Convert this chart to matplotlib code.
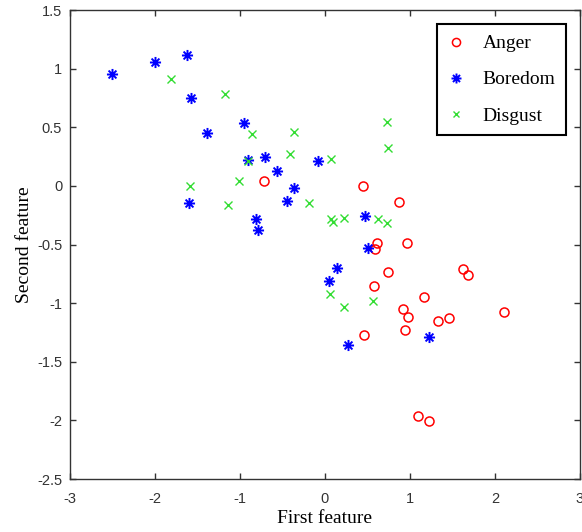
import matplotlib
matplotlib.use("Agg")
from matplotlib import pyplot as plt
from matplotlib.path import Path
from matplotlib.ticker import FuncFormatter
import numpy as np

plt.rcParams['axes.unicode_minus'] = False

# Данные
anger_x = [-0.72, 0.447, 0.87, 0.615, 0.97, 0.585, 0.74, 0.576, 1.62, 1.68,
           1.16, 0.92, 0.98, 1.33, 1.46, 2.11, 0.94, 0.455, 1.10, 1.22]
anger_y = [0.042, 0.0, -0.14, -0.49, -0.49, -0.54, -0.735, -0.853, -0.706, -0.76,
           -0.946, -1.048, -1.116, -1.15, -1.127, -1.076, -1.226, -1.268, -1.963, -2.006]

boredom_x = [-2.51, -2.00, -1.62, -1.57, -1.39, -0.957, -0.91, -0.71, -0.56, -0.365,
             -0.447, -1.60, -0.815, -0.79, -0.08, 0.474, 0.51, 0.137, 0.05, 0.267, 1.22]
boredom_y = [0.955, 1.06, 1.12, 0.746, 0.45, 0.536, 0.22, 0.246, 0.13, -0.017,
             -0.127, -0.147, -0.28, -0.38, 0.21, -0.254, -0.53, -0.70, -0.81, -1.356, -1.285]

disgust_x = [-1.815, -1.17, -0.86, -0.91, -0.365, -0.41, -1.59, -1.01, -1.14, -0.19,
             0.725, 0.745, 0.07, 0.07, 0.10, 0.227, 0.62, 0.733, 0.06, 0.22, 0.57]
disgust_y = [0.913, 0.78, 0.443, 0.21, 0.457, 0.268, -0.003, 0.04, -0.167, -0.147,
             0.542, 0.32, 0.229, -0.285, -0.31, -0.27, -0.285, -0.32, -0.926, -1.03, -0.983]

labels = ['Anger', 'Boredom', 'Disgust']

# Звёздочка как в MATLAB (8 лучей)
verts = []
codes = []
for a in [0, 45, 90, 135]:
    t = np.deg2rad(a)
    verts += [(-np.cos(t), -np.sin(t)), (np.cos(t), np.sin(t))]
    codes += [Path.MOVETO, Path.LINETO]
asterisk = Path(verts, codes)

fig = plt.figure(figsize=(5.82, 5.32), dpi=100)
ax = fig.add_axes([0.12, 0.0996, 0.8766, 0.8816])

ax.plot(anger_x, anger_y, 'o', color='red', markerfacecolor='none',
        markersize=6.5, markeredgewidth=1.1, label=labels[0])
ax.plot(boredom_x, boredom_y, linestyle='none', marker=asterisk, color='blue',
        markersize=8, markeredgewidth=1.4, label=labels[1])
ax.plot(disgust_x, disgust_y, 'x', color='#33dd33',
        markersize=5.5, markeredgewidth=1.0, label=labels[2])

ax.set_xlim(-3, 3)
ax.set_ylim(-2.5, 1.5)
ax.set_xticks(np.arange(-3, 4, 1))
ax.set_yticks(np.arange(-2.5, 2.0, 0.5))
ax.yaxis.set_major_formatter(FuncFormatter(lambda v, p: '%g' % v))
ax.xaxis.set_major_formatter(FuncFormatter(lambda v, p: '%g' % v))

ax.tick_params(direction='in', top=True, right=True, length=4, width=1,
               color='#333333', labelsize=10.5, labelcolor='#333333')
ax.tick_params(axis='x', pad=9)
ax.tick_params(axis='y', pad=5.5)
for lbl in ax.get_xticklabels() + ax.get_yticklabels():
    lbl.set_family('Liberation Sans')
for s in ax.spines.values():
    s.set_color('#333333')
    s.set_linewidth(1.0)

ax.set_xlabel('First feature', family='Liberation Serif', fontsize=14, labelpad=3)
ax.set_ylabel('Second feature', family='Liberation Serif', fontsize=14, labelpad=3)

leg = ax.legend(loc='upper right', bbox_to_anchor=(0.973, 0.97), borderaxespad=0,
                fancybox=False, framealpha=1, edgecolor='black',
                prop={'family': 'Liberation Serif', 'size': 14},
                handlelength=0.9, handletextpad=0.9, labelspacing=0.95,
                borderpad=0.55, markerscale=0.9)
leg.get_frame().set_linewidth(1.5)

plt.savefig('out.png', dpi=100)
